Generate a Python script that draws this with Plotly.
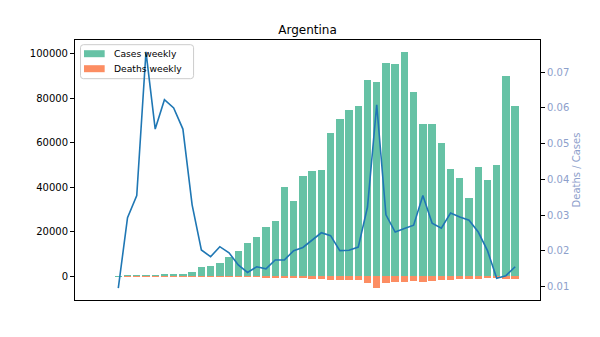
import plotly.graph_objects as go

# Weekly COVID-19 figures for Argentina (week index from the first record)
weeks = list(range(46))
cases_weekly = [0, 0, 100, 500, 500, 550, 600, 1000, 1000, 1100, 1800, 4000, 4600, 5900,
                8700, 11400, 15000, 17700, 22200, 24900, 40200, 33900, 45100, 47400,
                47800, 64400, 70700, 74800, 76600, 88200, 87300, 95800, 95400, 100800,
                82800, 68400, 68400, 59900, 48300, 44200, 35200, 49200, 43300, 50000,
                90000, 76600]
deaths_weekly = [0, 0, 1, 15, 18, 42, 32, 62, 60, 60, 59, 81, 85, 125, 170, 183, 210,
                 276, 333, 436, 703, 681, 947, 1095, 1200, 1565, 1421, 1511, 1616, 2849,
                 5317, 2884, 2414, 2651, 2252, 2428, 1902, 1581, 1478, 1304, 1007, 1245,
                 870, 620, 1179, 1195]
deaths_per_case = [None, None, 0.0096, 0.0293, 0.0355, 0.0757, 0.0541, 0.0623, 0.0600,
                   0.0541, 0.0329, 0.0203, 0.0184, 0.0212, 0.0195, 0.0161, 0.0140, 0.0156,
                   0.0150, 0.0175, 0.0175, 0.0201, 0.0210, 0.0231, 0.0251, 0.0243, 0.0201,
                   0.0202, 0.0211, 0.0323, 0.0609, 0.0301, 0.0253, 0.0263, 0.0272, 0.0355,
                   0.0278, 0.0264, 0.0306, 0.0295, 0.0286, 0.0253, 0.0201, 0.0124, 0.0131,
                   0.0156]
legend_labels = ["Cases weekly", "Deaths weekly"]

GREEN, ORANGE, SLATE, BLUE = "#66c2a5", "#fc8d62", "#8da0cb", "#1f77b4"
FONT = "DejaVu Sans"

W, H = 600, 337
M_L, M_R, M_T, M_B = 75, 59.5, 40, 37
PLOT_W, PLOT_H = W - M_L - M_R, H - M_T - M_B


def padded(lo, hi, frac=0.05):
    span = hi - lo
    return [lo - frac * span, hi + frac * span]


def px_to_paper(px, py):
    """Convert a pixel offset from the plot area's top-left corner to paper coords."""
    return px / PLOT_W, 1 - py / PLOT_H


bar_w = 0.8
x_range = padded(weeks[0] - bar_w / 2, weeks[-1] + bar_w / 2)
y_range = padded(-max(deaths_weekly), max(cases_weekly))
ratio_vals = [r for r in deaths_per_case if r is not None]
y2_range = padded(min(ratio_vals), max(ratio_vals))

# opacity just under 1 makes plotly round bar edges to whole pixels, so
# sub-pixel bars vanish instead of being widened to a visible sliver
fig = go.Figure()
fig.add_trace(go.Bar(x=weeks, y=cases_weekly, width=bar_w, marker_color=GREEN,
                     marker_opacity=0.999, marker_line_width=0,
                     name=legend_labels[0], showlegend=False))
fig.add_trace(go.Bar(x=weeks, y=[-d for d in deaths_weekly], width=bar_w,
                     marker_color=ORANGE, marker_opacity=0.999, marker_line_width=0,
                     name=legend_labels[1], showlegend=False))
fig.add_trace(go.Scatter(x=weeks, y=deaths_per_case, mode="lines", yaxis="y2",
                         line=dict(color=BLUE, width=1.6), showlegend=False,
                         connectgaps=False, name="Deaths / Cases"))

# Legend box in the upper-left corner, drawn beneath the traces
shapes, annotations = [], []
bx0, by0 = px_to_paper(5.5, 4.7)
bx1, by1 = px_to_paper(118.7, 38.7)
rx, ry = 3 / PLOT_W, 3 / PLOT_H
box_path = (f"M {bx0 + rx},{by0} L {bx1 - rx},{by0} Q {bx1},{by0} {bx1},{by0 - ry} "
            f"L {bx1},{by1 + ry} Q {bx1},{by1} {bx1 - rx},{by1} "
            f"L {bx0 + rx},{by1} Q {bx0},{by1} {bx0},{by1 + ry} "
            f"L {bx0},{by0 - ry} Q {bx0},{by0} {bx0 + rx},{by0} Z")
shapes.append(dict(type="path", path=box_path, xref="paper", yref="paper",
                   fillcolor="rgba(255,255,255,0.8)", line=dict(color="#cccccc", width=1),
                   layer="below"))
for i, (label, colour) in enumerate(zip(legend_labels, [GREEN, ORANGE])):
    cy = 13.7 + 15 * i
    px0, py0 = px_to_paper(9, cy - 3.5)
    px1, py1 = px_to_paper(29.7, cy + 3.5)
    shapes.append(dict(type="rect", xref="paper", yref="paper", x0=px0, x1=px1,
                       y0=py1, y1=py0, fillcolor=colour, line=dict(width=0),
                       layer="below"))
    tx, ty = px_to_paper(38, cy)
    annotations.append(dict(text=label, x=tx, y=ty, xref="paper", yref="paper",
                            xanchor="left", yanchor="middle", showarrow=False,
                            borderpad=0,
                            font=dict(family=FONT, size=9.2, color="black")))

fig.update_layout(
    width=W, height=H,
    margin=dict(l=M_L, r=M_R, t=M_T, b=M_B),
    paper_bgcolor="white", plot_bgcolor="white",
    barmode="relative", bargap=0,
    font=dict(family=FONT, size=10, color="black"),
    title=dict(text="Argentina", x=0.5, xref="paper", xanchor="center",
               y=1, yref="paper", yanchor="bottom", pad=dict(b=6),
               font=dict(family=FONT, size=12, color="black")),
    xaxis=dict(range=x_range, showticklabels=False, ticks="", showgrid=False,
               zeroline=False, showline=True, linecolor="black", linewidth=1,
               mirror=True),
    yaxis=dict(range=y_range, dtick=20000, tick0=0, tickformat="d", ticks="outside",
               ticklen=4, tickcolor="black", showgrid=False, zeroline=False,
               showline=True, linecolor="black", linewidth=1,
               tickfont=dict(family=FONT, size=10, color="black")),
    yaxis2=dict(overlaying="y", side="right", range=y2_range, dtick=0.01, tick0=0.01,
                tickformat=".2f", ticks="outside", ticklen=4, tickcolor="black",
                showgrid=False, zeroline=False, showline=True, linecolor="black",
                linewidth=1, tickfont=dict(family=FONT, size=10, color=SLATE),
                title=dict(text="Deaths / Cases", standoff=4,
                           font=dict(family=FONT, size=10, color=SLATE))),
    shapes=shapes,
    annotations=annotations,
    showlegend=False,
)

fig.write_html("out.html")
